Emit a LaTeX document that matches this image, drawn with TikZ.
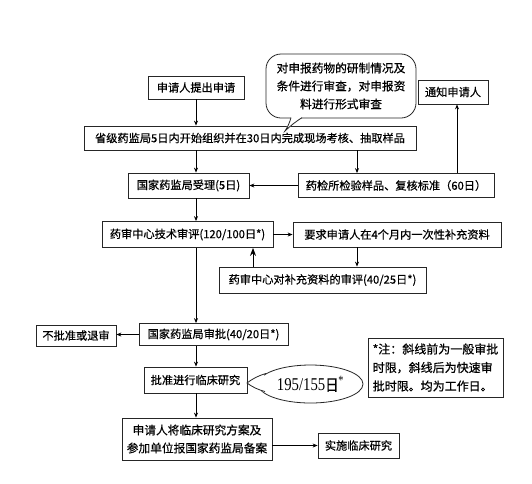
\documentclass[tikz,border=0pt]{standalone}
\usepackage{fontspec}
\setmainfont{Liberation Serif}
\newfontfamily\cjk[FakeBold=0.6]{Noto Sans CJK SC}
\usetikzlibrary{arrows.meta,shapes.geometric}
\begin{document}
\begin{tikzpicture}[x=1pt,y=-1pt,
  box/.style={draw=black!85, line width=0.8pt, fill=white, inner sep=0pt,
    font=\cjk\fontsize{11.2}{18}\selectfont, align=center},
  bigtext/.style={font=\cjk\fontsize{11.7}{18}\selectfont},
  arr/.style={line width=0.8pt, -{Stealth[length=5pt,width=4pt]}},
  bigarr/.style={line width=1pt, -{Stealth[length=8pt,width=6pt]}},
  outline/.style={draw=black!85, line width=0.8pt, fill=white}
  ]
\useasboundingbox[fill=white] (0,0) rectangle (532,483);
% column coordinates
\coordinate (c1) at (196,0);
\coordinate (c2) at (357,0);
\coordinate (c3) at (457,0);
\coordinate (c4) at (253,0);
% boxes
\node[box, minimum width=96pt, minimum height=23pt] (app) at (196,87.5) {申请人提出申请};
\node[box, minimum width=332pt, minimum height=24pt] (prov) at (250,138) {省级药监局5日内开始组织并在30日内完成现场考核、抽取样品};
\node[box, minimum width=70pt, minimum height=24pt] (notify) at (453,92) {通知申请人};
\node[box, minimum width=121pt, minimum height=25pt] (accept) at (188.5,185.5) {国家药监局受理(5日)};
\node[box, minimum width=196pt, minimum height=24pt] (check) at (396,185.5) {药检所检验样品、复核标准（60日）};
\node[box, minimum width=171pt, minimum height=26pt] (tech) at (187.5,234.5) {药审中心技术审评(120/100日*)};
\node[box, minimum width=208pt, minimum height=25pt] (req) at (397,234.5) {要求申请人在4个月内一次性补充资料};
\node[box, minimum width=207pt, minimum height=26pt] (supp) at (322.5,280) {药审中心对补充资料的审评(40/25日*)};
\node[box, minimum width=80pt, minimum height=21pt] (reject) at (76,335.5) {不批准或退审};
\node[box, minimum width=149pt, minimum height=22pt] (approve) at (213.5,334.5) {国家药监局审批(40/20日*)};
\node[box, minimum width=103pt, minimum height=26pt] (clin) at (195.5,380) {批准进行临床研究};
\node[box, minimum width=135pt, minimum height=59pt, align=left,
  font=\cjk\fontsize{12}{18.5}\selectfont] (note) at (435.5,367.5)
  {*注：斜线前为一般审批\\时限，斜线后为快速审\\批时限。均为工作日。};
\node[box, bigtext, minimum width=150pt, minimum height=42pt] (file) at (197,439)
  {申请人将临床研究方案及\\参加单位报国家药监局备案};
\node[box, minimum width=81pt, minimum height=25pt] (impl) at (358.5,445.5) {实施临床研究};
% speech bubble
\node[box, bigtext, rounded corners=15pt, minimum width=150pt, minimum height=64pt] (bubble) at (341,86)
  {对申报药物的研制情况及\\条件进行审查，对申报资\\料进行形式审查};
\coordinate (btip) at (285,131);
\fill[white] (291,117.2) -- (btip) -- (302,117.2) -- cycle;
\draw[line width=0.8pt, draw=black!85] (291,117.6) to[bend left=8] (btip) to[bend left=5] (302,117.6);
% ellipse bubble
\node[ellipse, outline, minimum width=105pt, minimum height=38pt, inner sep=0pt] (days) at (310.5,384)
  {\scalebox{0.82}[1]{\fontsize{18}{20}\selectfont 195/155{\cjk\fontsize{16}{18}\selectfont 日}\textsuperscript{*}}};
\coordinate (etip) at (247,383);
\fill[white] (264,374) -- (etip) -- (264,392) -- cycle;
\draw[line width=0.8pt, draw=black!85] (266,373.5) to[bend right=10] (etip) to[bend right=10] (265,391.5);
% connectors
\draw[arr] (app.south -| c1) -- (prov.north -| c1);
\draw[arr] (prov.south -| c1) -- (accept.north -| c1);
\draw[arr] (prov.south -| c2) -- (check.north -| c2);
\draw[arr] (check.north -| c3) -- (notify.south -| c3);
\draw[arr] (check.west) -- (check.west -| accept.east);
\draw[arr] (accept.south -| c1) -- (tech.north -| c1);
\draw[arr] (tech.east) -- (tech.east -| req.west);
\draw[arr] (req.south -| c2) -- (supp.north -| c2);
\draw[bigarr] (supp.north -| c4) -- (tech.south -| c4);
\draw[arr] (tech.south -| c1) -- (approve.north -| c1);
\draw[arr] (approve.west) -- (approve.west -| reject.east);
\draw[arr] (approve.south -| c1) -- (clin.north -| c1);
\draw[arr] (clin.south -| c1) -- (file.north -| c1);
\draw[arr] (impl.west -| file.east) -- (impl.west);
\end{tikzpicture}
\end{document}
